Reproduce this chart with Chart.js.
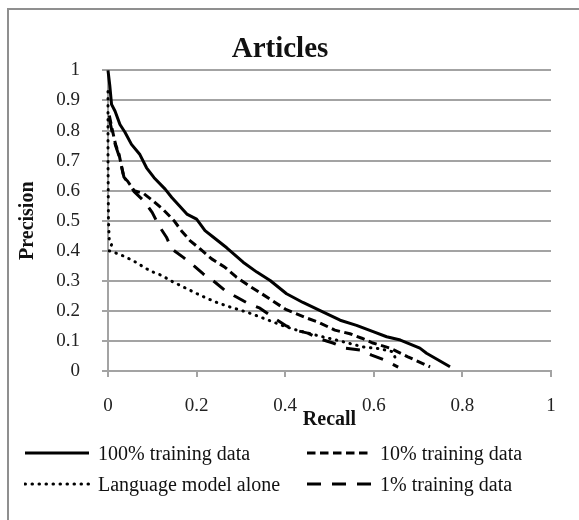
<!DOCTYPE html>
<html>
<head>
<meta charset="utf-8">
<script src="https://cdn.jsdelivr.net/npm/chart.js@4.4.1/dist/chart.umd.min.js"></script>
<style>
html,body{margin:0;padding:0;background:#fff;}
#wrap{position:relative;width:579px;height:520px;overflow:hidden;background:#fff;}
#frame{position:absolute;left:7px;top:8px;width:640px;height:640px;border:2px solid #8f8f8f;box-sizing:border-box;}
#c{position:absolute;left:0;top:0;}
.item{position:absolute;display:flex;align-items:center;height:24px;white-space:nowrap;font-family:'Liberation Serif',serif;font-size:20px;color:#111;}
.item svg{display:block;margin-right:8px;}
</style>
</head>
<body>
<div id="wrap">
  <div id="frame"></div>
  <canvas id="c" width="579" height="520"></canvas>
  <div id="legend"></div>
</div>
<script>
// ---- data ----
const chartTitle = 'Articles';
const xTitle = 'Recall';
const yTitle = 'Precision';
const xTickLabels = ['0', '0.2', '0.4', '0.6', '0.8', '1'];
const yTickLabels = ['0', '0.1', '0.2', '0.3', '0.4', '0.5', '0.6', '0.7', '0.8', '0.9', '1'];
const seriesNames = ['100% training data', '10% training data', 'Language model alone', '1% training data'];

const recall100 = [0, 0.004, 0.008, 0.016, 0.027, 0.038, 0.053, 0.072, 0.087, 0.104, 0.129, 0.144, 0.178, 0.2, 0.219, 0.238, 0.268, 0.305, 0.336, 0.366, 0.403, 0.44, 0.486, 0.524, 0.561, 0.6, 0.629, 0.66, 0.704, 0.719, 0.772];
const precision100 = [1, 0.95, 0.887, 0.864, 0.82, 0.795, 0.754, 0.72, 0.676, 0.643, 0.605, 0.577, 0.522, 0.505, 0.467, 0.445, 0.41, 0.362, 0.329, 0.301, 0.257, 0.228, 0.196, 0.169, 0.152, 0.13, 0.114, 0.103, 0.076, 0.059, 0.014];

const recall10 = [0.003, 0.01, 0.017, 0.025, 0.036, 0.044, 0.059, 0.081, 0.1, 0.126, 0.149, 0.166, 0.185, 0.208, 0.234, 0.264, 0.29, 0.317, 0.347, 0.37, 0.4, 0.451, 0.474, 0.512, 0.546, 0.573, 0.598, 0.637, 0.677, 0.727];
const precision10 = [0.85, 0.8, 0.754, 0.72, 0.643, 0.632, 0.6, 0.59, 0.568, 0.535, 0.5, 0.466, 0.434, 0.406, 0.373, 0.345, 0.312, 0.285, 0.257, 0.235, 0.206, 0.175, 0.163, 0.136, 0.124, 0.109, 0.093, 0.076, 0.047, 0.014];

const recallLM = [0, 0, 0.001, 0.003, 0.008, 0.002, 0.012, 0.027, 0.057, 0.087, 0.102, 0.121, 0.147, 0.178, 0.208, 0.242, 0.275, 0.313, 0.343, 0.373, 0.4, 0.426, 0.47, 0.524, 0.576, 0.614, 0.643, 0.648];
const precisionLM = [0.93, 0.7, 0.5, 0.43, 0.42, 0.4, 0.395, 0.388, 0.367, 0.34, 0.329, 0.318, 0.296, 0.274, 0.252, 0.23, 0.213, 0.196, 0.18, 0.163, 0.148, 0.136, 0.119, 0.1, 0.08, 0.074, 0.064, 0.045];

const recall1 = [0.003, 0.01, 0.017, 0.025, 0.036, 0.044, 0.059, 0.081, 0.1, 0.115, 0.132, 0.144, 0.17, 0.193, 0.215, 0.241, 0.264, 0.29, 0.317, 0.343, 0.366, 0.4, 0.422, 0.451, 0.474, 0.508, 0.535, 0.569, 0.595, 0.625, 0.655];
const precision1 = [0.84, 0.79, 0.75, 0.715, 0.645, 0.63, 0.597, 0.566, 0.527, 0.483, 0.445, 0.406, 0.378, 0.351, 0.323, 0.296, 0.268, 0.246, 0.224, 0.209, 0.185, 0.152, 0.136, 0.126, 0.109, 0.093, 0.076, 0.07, 0.053, 0.036, 0.013];

// ---- build chart ----
const FONT = 'Liberation Serif';
Chart.defaults.font.family = FONT;
const pts = (xs, ys) => xs.map((x, i) => ({x: x, y: ys[i]}));

const styles = [
  {dash: [], cap: 'butt'},
  {dash: [8.5, 4.5], cap: 'butt'},
  {dash: [0.5, 6.5], cap: 'round'},
  {dash: [14, 11], cap: 'butt'}
];
const seriesData = [
  pts(recall100, precision100),
  pts(recall10, precision10),
  pts(recallLM, precisionLM),
  pts(recall1, precision1)
];

const datasets = seriesNames.map((name, i) => ({
  label: name,
  data: seriesData[i],
  showLine: true,
  borderColor: '#000',
  backgroundColor: '#000',
  borderWidth: 3,
  borderDash: styles[i].dash,
  borderCapStyle: styles[i].cap,
  borderJoinStyle: 'round',
  pointRadius: 0,
  pointHoverRadius: 0,
  tension: 0,
  fill: false,
  clip: false
}));

const gridGray = '#a3a3a3';

new Chart(document.getElementById('c'), {
  type: 'scatter',
  data: {datasets: datasets},
  options: {
    responsive: false,
    animation: false,
    devicePixelRatio: 1,
    layout: {padding: {left: 9, right: 28, top: 20, bottom: 88}},
    plugins: {
      legend: {display: false},
      tooltip: {enabled: false},
      title: {
        display: true,
        text: chartTitle,
        color: '#111',
        font: {family: FONT, size: 29, weight: 'bold', lineHeight: 1.2},
        padding: {top: 12.6, bottom: 3}
      }
    },
    scales: {
      x: {
        type: 'linear',
        min: 0, max: 1,
        ticks: {
          stepSize: 0.2,
          autoSkip: false,
          maxRotation: 0,
          padding: 18,
          color: '#222',
          font: {family: FONT, size: 19, lineHeight: 1.2},
          callback: (v, i) => xTickLabels[i]
        },
        grid: {drawOnChartArea: false, drawTicks: true, tickLength: 6, color: gridGray, lineWidth: 2},
        border: {display: true, color: gridGray, width: 2},
        title: {
          display: true, text: xTitle, color: '#111',
          font: {family: FONT, size: 20, weight: 'bold', lineHeight: 1.2},
          padding: {top: 0, bottom: 0}
        },
        afterFit: (s) => { s.height = 61; }
      },
      y: {
        type: 'linear',
        min: 0, max: 1,
        ticks: {
          stepSize: 0.1,
          autoSkip: false,
          padding: 22,
          color: '#222',
          font: {family: FONT, size: 19, lineHeight: 1.2},
          callback: (v, i) => yTickLabels[i]
        },
        grid: {drawTicks: true, tickLength: 6, color: gridGray, lineWidth: 2},
        border: {display: true, color: gridGray, width: 2},
        title: {
          display: true, text: yTitle, color: '#111',
          font: {family: FONT, size: 20, weight: 'bold', lineHeight: 1.2},
          padding: {top: 7, bottom: 0}
        },
        afterFit: (s) => { s.width = 99; }
      }
    }
  }
});

// ---- HTML legend (two columns like the reference) ----
const legendSlots = [
  {left: 24, top: 441}, {left: 306, top: 441},
  {left: 24, top: 472}, {left: 306, top: 472}
];
const legendEl = document.getElementById('legend');
datasets.forEach((ds, i) => {
  const item = document.createElement('div');
  item.className = 'item';
  item.style.left = legendSlots[i].left + 'px';
  item.style.top = legendSlots[i].top + 'px';
  const svgNS = 'http://www.w3.org/2000/svg';
  const svg = document.createElementNS(svgNS, 'svg');
  svg.setAttribute('width', '66');
  svg.setAttribute('height', '24');
  const line = document.createElementNS(svgNS, 'line');
  line.setAttribute('x1', '1'); line.setAttribute('x2', '65');
  line.setAttribute('y1', '12'); line.setAttribute('y2', '12');
  line.setAttribute('stroke', ds.borderColor);
  line.setAttribute('stroke-width', ds.borderWidth);
  if (ds.borderDash.length) line.setAttribute('stroke-dasharray', ds.borderDash.join(' '));
  line.setAttribute('stroke-linecap', ds.borderCapStyle);
  svg.appendChild(line);
  const span = document.createElement('span');
  span.textContent = ds.label;
  item.appendChild(svg);
  item.appendChild(span);
  legendEl.appendChild(item);
});
</script>
</body>
</html>
